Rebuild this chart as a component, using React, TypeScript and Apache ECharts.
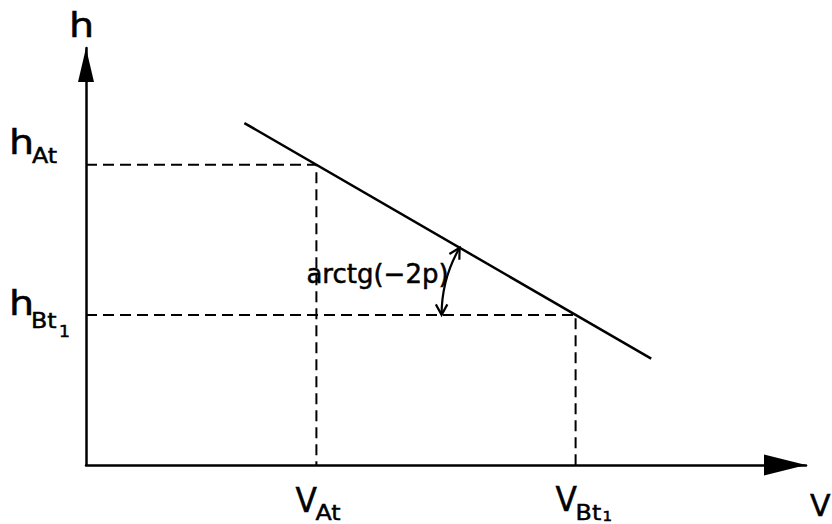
import React, { useEffect, useRef } from "react";
import * as echarts from "echarts";

// Axis extents (arbitrary units)
const vAxisMax = 100;
const hAxisMax = 100;

// Operating points: V_At / V_Bt1 on the V axis, h_At / h_Bt1 on the h axis
const vValues = [32, 68];
const hValues = [72, 36];

// End points of the characteristic line h(V)
const lineStart = [22, 82];
const lineEnd = [78.5, 25.5];

// Label texts: [main, subscript, second-level subscript]
const hTickLabels = [["h", "At"], ["h", "Bt", "1"]];
const vTickLabels = [["V", "At"], ["V", "Bt", "1"]];
const axisNames = ["V", "h"];
const angleLabel = "arctg(\u22122p)";

const FONT = '"DejaVu Sans", "Liberation Sans", sans-serif';
const BASELINE_K = 0.35;

// Horizontal stretch per glyph group, for the wide plotter lettering
function stretchFor(text: string) {
  if (text === "h") return 1.2;
  if (text === "V") return 0.95;
  return 1.08;
}

function txt(text: string, size: number, x: number, baseline: number, align = "left", sx = 1) {
  return {
    type: "text",
    x,
    y: baseline - BASELINE_K * size,
    scaleX: sx,
    style: {
      text,
      fontSize: size,
      fontFamily: FONT,
      fill: "#000",
      textFill: "#000",
      stroke: "#000",
      textStroke: "#000",
      lineWidth: 0.5,
      textStrokeWidth: 0.5,
      align,
      textAlign: align,
      verticalAlign: "middle",
      textVerticalAlign: "middle",
    },
  };
}

function arrowHead(tip: number[], dir: number[], len: number, half: number) {
  const back = [-dir[0], -dir[1]];
  const rot = (v: number[], a: number) => [
    v[0] * Math.cos(a) - v[1] * Math.sin(a),
    v[0] * Math.sin(a) + v[1] * Math.cos(a),
  ];
  const a = rot(back, half);
  const b = rot(back, -half);
  return {
    type: "polyline",
    shape: {
      points: [
        [tip[0] + a[0] * len, tip[1] + a[1] * len],
        [tip[0], tip[1]],
        [tip[0] + b[0] * len, tip[1] + b[1] * len],
      ],
    },
    style: { stroke: "#000", lineWidth: 2.2, fill: "none" },
  };
}

// Offsets (px) of each label part relative to its anchor: [dx, baseline dy, font size]
const hLabelLayout = [
  [[-77, -11, 33], [-54, -2, 22]],
  [[-77, 0, 33], [-55, 13, 22], [-27, 22, 16]],
];
const vLabelLayout = [
  [[-21, 47, 33], [-1, 55, 22]],
  [[-20, 46, 33], [0, 55, 22], [27, 56, 14]],
];

function renderAnnotations(_params: any, api: any) {
  const children: any[] = [];

  // Tick labels on the h axis
  hValues.forEach((h, i) => {
    const p = api.coord([0, h]);
    hTickLabels[i].forEach((part, j) => {
      const [dx, dy, size] = hLabelLayout[i][j];
      children.push(txt(part, size, p[0] + dx, p[1] + dy, "left", stretchFor(part)));
    });
  });

  // Tick labels on the V axis
  vValues.forEach((v, i) => {
    const p = api.coord([v, 0]);
    vTickLabels[i].forEach((part, j) => {
      const [dx, dy, size] = vLabelLayout[i][j];
      children.push(txt(part, size, p[0] + dx, p[1] + dy, "left", stretchFor(part)));
    });
  });

  // Axis names
  const vEnd = api.coord([vAxisMax, 0]);
  children.push(txt(axisNames[0], 30, vEnd[0] + 4, vEnd[1] + 51, "left", 1));
  const hEnd = api.coord([0, hAxisMax]);
  children.push(txt(axisNames[1], 33, hEnd[0] - 17, hEnd[1] - 11, "left", 1.2));

  // Angle arc between the characteristic and the h_Bt1 level
  const c = api.coord([vValues[1], hValues[1]]);
  const s = api.coord(lineStart);
  let lineAngle = Math.atan2(s[1] - c[1], s[0] - c[0]);
  if (lineAngle < Math.PI) lineAngle += Math.PI * 2;
  const r = 134;
  const a0 = Math.PI;
  children.push({
    type: "arc",
    shape: { cx: c[0], cy: c[1], r, startAngle: a0, endAngle: lineAngle, clockwise: true },
    style: { stroke: "#000", lineWidth: 2.2, fill: "none" },
  });
  const tipTop = [c[0] + r * Math.cos(lineAngle), c[1] + r * Math.sin(lineAngle)];
  children.push(arrowHead(tipTop, [-Math.sin(lineAngle), Math.cos(lineAngle)], 12, 0.5));
  const tipBottom = [c[0] + r * Math.cos(a0), c[1] + r * Math.sin(a0)];
  children.push(arrowHead(tipBottom, [Math.sin(a0), -Math.cos(a0)], 12, 0.5));

  children.push(txt(angleLabel, 26, c[0] - 127, c[1] - 32, "right"));

  return { type: "group", children };
}

export default function App() {
  const ref = useRef<HTMLDivElement>(null);

  useEffect(() => {
    if (!ref.current) return;
    const chart = echarts.init(ref.current, null, { renderer: "svg" });

    const axisCommon = {
      type: "value",
      axisTick: { show: false },
      axisLabel: { show: false },
      splitLine: { show: false },
    };

    const dashed = { color: "#000", width: 2, type: [11, 6] };

    chart.setOption({
      animation: false,
      backgroundColor: "#fff",
      grid: { left: 86, right: 26, top: 48, bottom: 59, containLabel: false, outerBoundsMode: "none" },
      xAxis: {
        ...axisCommon,
        min: 0,
        max: vAxisMax,
        axisLine: {
          show: true,
          symbol: ["none", "triangle"],
          symbolSize: [21, 42],
          symbolOffset: [0, -21],
          lineStyle: { color: "#000", width: 2.5 },
        },
      },
      yAxis: {
        ...axisCommon,
        min: 0,
        max: hAxisMax,
        axisLine: {
          show: true,
          symbol: ["none", "triangle"],
          symbolSize: [16, 34],
          symbolOffset: [0, -17],
          lineStyle: { color: "#000", width: 2.5 },
        },
      },
      series: [
        {
          name: "guide A",
          type: "line",
          silent: true,
          symbol: "none",
          lineStyle: dashed,
          data: [[0, hValues[0]], [vValues[0], hValues[0]], [vValues[0], 0]],
          z: 2,
        },
        {
          name: "guide B",
          type: "line",
          silent: true,
          symbol: "none",
          lineStyle: dashed,
          data: [[0, hValues[1]], [vValues[1], hValues[1]], [vValues[1], 0]],
          z: 2,
        },
        {
          name: "h(V)",
          type: "line",
          silent: true,
          symbol: "none",
          lineStyle: { color: "#000", width: 2.5 },
          data: [lineStart, lineEnd],
          z: 3,
        },
        {
          name: "annotations",
          type: "custom",
          silent: true,
          renderItem: renderAnnotations,
          data: [[vValues[1], hValues[1]]],
          z: 4,
        },
      ],
    });

    return () => chart.dispose();
  }, []);

  return (
    <div
      ref={ref}
      style={{ position: "fixed", left: 0, top: 0, width: 832, height: 524 }}
    />
  );
}
